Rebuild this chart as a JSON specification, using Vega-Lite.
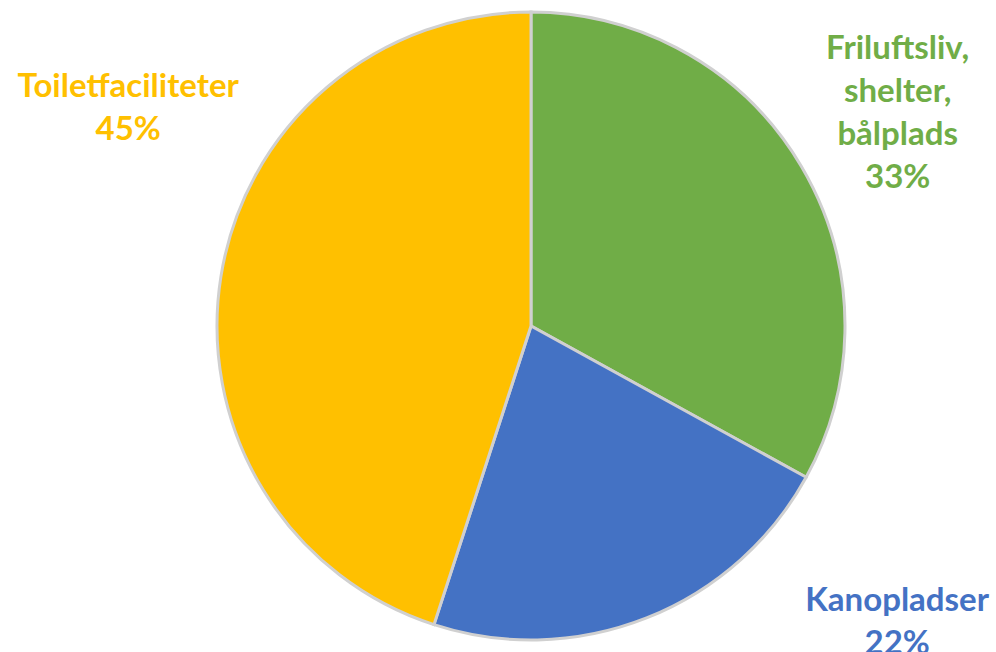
{
  "$schema": "https://vega.github.io/schema/vega-lite/v6.json",
  "description": "Pie chart of facility types",
  "autosize": {"type": "none"},
  "padding": {"left": 66, "top": 0, "right": 0, "bottom": 0},
  "width": 930,
  "height": 652,
  "background": "white",
  "data": {
    "values": [
      {"kategori": "Friluftsliv, shelter, bålplads", "label": "Friluftsliv,\nshelter,\nbålplads", "andel": 33},
      {"kategori": "Kanopladser", "label": "Kanopladser", "andel": 22},
      {"kategori": "Toiletfaciliteter", "label": "Toiletfaciliteter", "andel": 45}
    ]
  },
  "transform": [
    {"stack": "andel", "groupby": [], "sort": [{"field": "kategori", "order": "ascending"}], "as": ["start", "end"]},
    {"calculate": "(datum.start + datum.end) / 2", "as": "mid"},
    {"calculate": "datum.label + '\\n' + datum.andel + '%'", "as": "tekst"}
  ],
  "encoding": {
    "color": {
      "field": "kategori",
      "type": "nominal",
      "legend": null,
      "scale": {
        "domain": ["Friluftsliv, shelter, bålplads", "Kanopladser", "Toiletfaciliteter"],
        "range": ["#70AD47", "#4472C4", "#FFC000"]
      }
    }
  },
  "layer": [
    {
      "mark": {"type": "arc", "outerRadius": 314, "stroke": "#D0D0D0", "strokeWidth": 3},
      "encoding": {
        "theta": {"field": "start", "type": "quantitative", "scale": {"domain": [0, 100]}},
        "theta2": {"field": "end"}
      }
    },
    {
      "transform": [{"filter": "datum.kategori === 'Friluftsliv, shelter, bålplads'"}],
      "mark": {"type": "text", "radius": 426, "dy": -60, "font": "Lato", "fontWeight": "bold", "fontSize": 33, "lineBreak": "\n", "lineHeight": 43, "align": "center", "baseline": "middle"},
      "encoding": {
        "theta": {"field": "mid", "type": "quantitative", "scale": {"domain": [0, 100]}},
        "text": {"field": "tekst"}
      }
    },
    {
      "transform": [{"filter": "datum.kategori === 'Kanopladser'"}],
      "mark": {"type": "text", "radius": 340, "dx": 241, "dy": -41, "font": "Lato", "fontWeight": "bold", "fontSize": 33, "lineBreak": "\n", "lineHeight": 43, "align": "center", "baseline": "middle"},
      "encoding": {
        "theta": {"field": "mid", "type": "quantitative", "scale": {"domain": [0, 100]}},
        "text": {"field": "tekst"}
      }
    },
    {
      "transform": [{"filter": "datum.kategori === 'Toiletfaciliteter'"}],
      "mark": {"type": "text", "radius": 340, "dx": -67, "dy": -186, "font": "Lato", "fontWeight": "bold", "fontSize": 33, "lineBreak": "\n", "lineHeight": 43, "align": "center", "baseline": "middle"},
      "encoding": {
        "theta": {"field": "mid", "type": "quantitative", "scale": {"domain": [0, 100]}},
        "text": {"field": "tekst"}
      }
    }
  ],
  "config": {"view": {"stroke": null}}
}
